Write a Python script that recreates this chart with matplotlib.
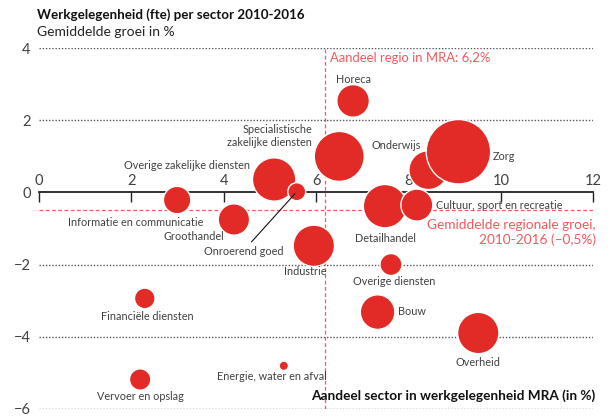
import matplotlib
matplotlib.use("Agg")
import matplotlib.pyplot as plt

# Sectoren in tekenvolgorde (latere bellen liggen bovenop)
sectoren = [
    "Vervoer en opslag", "Financiële diensten", "Energie, water en afval",
    "Informatie en communicatie", "Groothandel", "Overige zakelijke diensten",
    "Onroerend goed", "Industrie", "Specialistische\nzakelijke diensten",
    "Horeca", "Overige diensten", "Bouw", "Detailhandel",
    "Cultuur, sport en recreatie", "Onderwijs", "Zorg", "Overheid",
]
# Aandeel sector in werkgelegenheid MRA (%)
aandeel = [2.19, 2.29, 5.30, 2.99, 4.22, 5.09, 5.58, 5.95, 6.50,
           6.80, 7.62, 7.33, 7.49, 8.18, 8.43, 9.08, 9.51]
# Gemiddelde groei 2010-2016 (%)
groei = [-5.19, -2.94, -4.81, -0.21, -0.75, 0.36, 0.02, -1.48, 1.00,
         2.54, -2.00, -3.32, -0.38, -0.35, 0.62, 1.13, -3.90]
# Omvang werkgelegenheid in de regio (relatief, bepaalt belgrootte)
omvang = [11.4, 10.6, 2.2, 18.8, 24.6, 47.0, 8.1, 42.8, 62.5,
          26.6, 12.1, 29.9, 47.0, 25.6, 38.0, 104.0, 42.8]

aandeel_regio = 6.2
gemiddelde_groei = -0.5

x_ticks = [0, 2, 4, 6, 8, 10, 12]
y_ticks = [-6, -4, -2, 0, 2, 4]

# Positie van de labels t.o.v. het belmiddelpunt (punten) en uitlijning
label_layout = {
    "Vervoer en opslag": (0.5, -12.5, "center"),
    "Financiële diensten": (2, -12.7, "center"),
    "Energie, water en afval": (-8.6, -7.7, "center"),
    "Informatie en communicatie": (-29.7, -16.0, "center"),
    "Groothandel": (-7.2, -12.0, "right"),
    "Overige zakelijke diensten": (-62.5, 9.8, "center"),
    "Onroerend goed": (-37.9, -42.8, "center"),
    "Industrie": (-6.1, -18.7, "center"),
    "Specialistische\nzakelijke diensten": (-19.7, 14.8, "right"),
    "Horeca": (0, 15.4, "center"),
    "Overige diensten": (2.2, -12.0, "center"),
    "Bouw": (14.8, 0.5, "left"),
    "Detailhandel": (0.6, -23.3, "center"),
    "Cultuur, sport en recreatie": (13.9, 0, "left"),
    "Onderwijs": (-5.5, 18.0, "right"),
    "Zorg": (25.0, -3.6, "left"),
    "Overheid": (0, -20.9, "center"),
}

ROOD = "#e22b27"
LICHTROOD = "#f05a5c"
TEKST = "#404040"

plt.rcParams["font.family"] = ["Lato", "DejaVu Sans"]

fig = plt.figure(figsize=(6.12, 4.17), dpi=100)
ax = fig.add_axes([39 / 612, 1 - 408.7 / 417, (593.3 - 39) / 612, (408.7 - 48.3) / 417])
ax.set_xlim(0, 12)
ax.set_ylim(-6, 4)

# Horizontale stippellijnen
for yv in y_ticks:
    if yv != 0:
        ax.axhline(yv, color="#555555", lw=1.0, ls=(0, (1, 1.3)), zorder=1)

# Referentielijnen regio
ax.axvline(aandeel_regio, color=LICHTROOD, lw=0.9, ls=(0, (3, 2)), zorder=1.5)
ax.axhline(gemiddelde_groei, color=LICHTROOD, lw=0.9, ls=(0, (3, 2)), zorder=1.5)

# x-as door nul, tikken naar beneden, labels erboven
for side in ["left", "right", "bottom"]:
    ax.spines[side].set_visible(False)
ax.spines["top"].set_position(("data", 0))
ax.spines["top"].set_linewidth(1.3)
ax.spines["top"].set_color("#222222")
ax.spines["top"].set_zorder(2)
ax.xaxis.set_ticks_position("top")
ax.set_xticks(x_ticks)
ax.set_xticklabels([str(v) for v in x_ticks])
ax.tick_params(axis="x", direction="in", length=7, width=1.0, color="#222222",
               pad=3, labelsize=10.5, labelcolor=TEKST)
ax.set_yticks(y_ticks)
ax.set_yticklabels([str(v).replace("-", "\u2212") for v in y_ticks])
ax.tick_params(axis="y", length=0, pad=6, labelsize=10.5, labelcolor=TEKST)

# Bellen
schaal = 20.7
ax.scatter(aandeel, groei, s=[v * schaal for v in omvang], color=ROOD,
           edgecolors="white", linewidths=1.0, zorder=3, clip_on=False)

# Sectorlabels
for naam, xv, yv in zip(sectoren, aandeel, groei):
    dx, dy, ha = label_layout[naam]
    if naam == "Onroerend goed":
        ax.annotate(naam, xy=(xv, yv), xytext=(dx, dy), textcoords="offset points",
                    ha=ha, va="center", fontsize=7.8, color=TEKST, zorder=5,
                    arrowprops=dict(arrowstyle="-", color="#111111", lw=0.8,
                                    relpos=(0.55, 1.0), shrinkA=1, shrinkB=2))
    else:
        ax.annotate(naam, xy=(xv, yv), xytext=(dx, dy), textcoords="offset points",
                    ha=ha, va="center", fontsize=7.8, color=TEKST,
                    multialignment=ha if ha != "center" else "center", zorder=5)

# Annotaties referentielijnen
ax.text(aandeel_regio + 0.09, 3.72, "Aandeel regio in MRA: 6,2%", color=LICHTROOD,
        fontsize=9.4, ha="left", va="center", zorder=4)
fig.text(596 / 612, 1 - 232.5 / 417,
         "Gemiddelde regionale groei,\n2010-2016 (\u20130,5%)", color=LICHTROOD,
         fontsize=9.8, ha="right", va="center", multialignment="right",
         linespacing=1.15)

# Titels
fig.text(37 / 612, 1 - 15 / 417, "Werkgelegenheid (fte) per sector 2010-2016",
         fontsize=9.6, fontweight="bold", color="#111111", ha="left", va="center")
fig.text(37 / 612, 1 - 31.7 / 417, "Gemiddelde groei in %",
         fontsize=10, color="#222222", ha="left", va="center")
fig.text(595 / 612, 1 - 396 / 417, "Aandeel sector in werkgelegenheid MRA (in %)",
         fontsize=9.8, fontweight="bold", color="#111111", ha="right", va="center")

fig.savefig("out.png", dpi=100)
